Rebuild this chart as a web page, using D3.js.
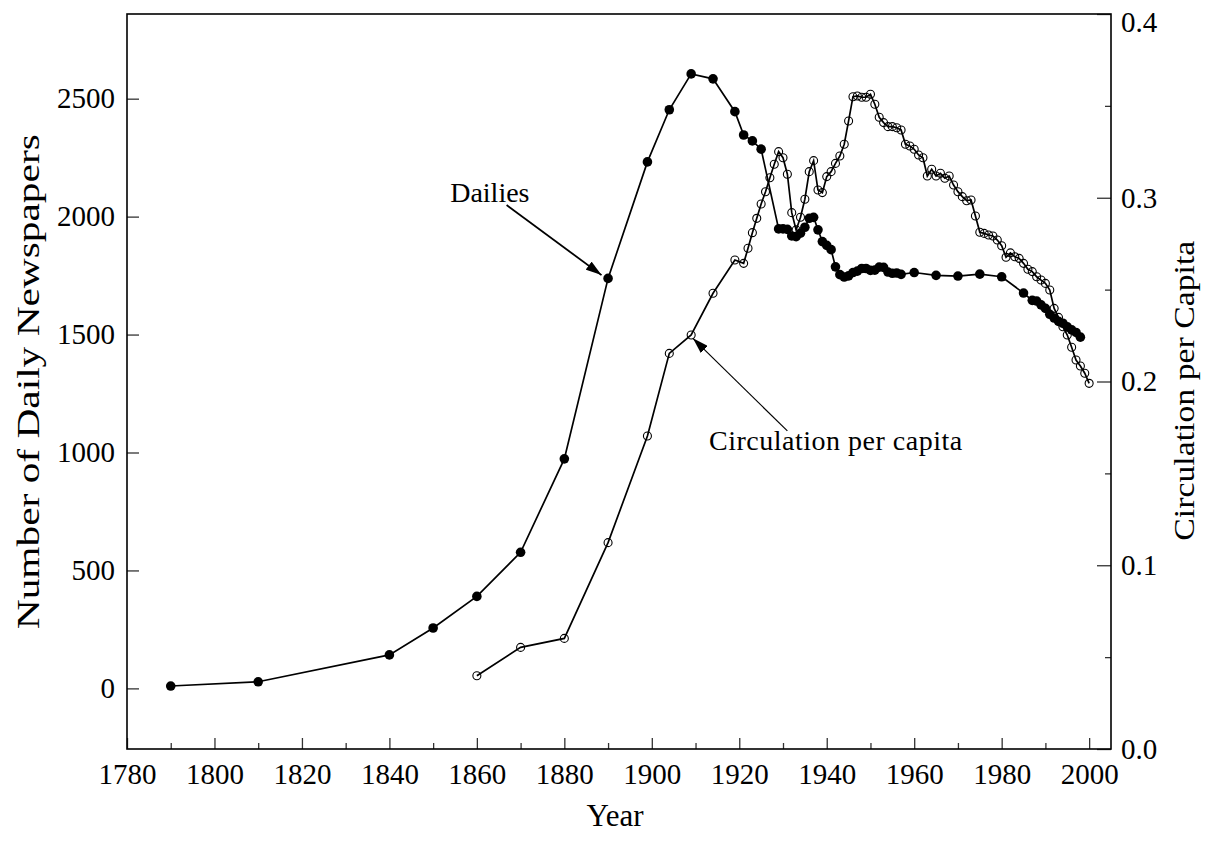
<!DOCTYPE html>
<html>
  <head>
    <meta charset="utf-8">
    <title>Daily Newspapers and Circulation per Capita</title>
    <script src="https://d3js.org/d3.v7.min.js"></script>
    <style>
      body { margin: 0; background: #fff; }
      svg { font-family: "Liberation Serif", "Times New Roman", serif; }
      .tick text { font-family: "Liberation Serif", "Times New Roman", serif; font-size: 29px; fill: #000; }
      .tick line { stroke: #333; stroke-width: 1.3; }
      .domain { display: none; }
    </style>
  </head>
  <body>

<svg id="chart" width="1205" height="841"></svg>

<script>

  // number of daily newspapers (left axis)
  let dailyYears = [1790, 1810, 1840, 1850, 1860, 1870, 1880, 1890, 1899, 1904, 1909, 1914, 1919, 1921, 1923, 1925,
    1929, 1930, 1931, 1932, 1933, 1934, 1935, 1936, 1937, 1938, 1939, 1940, 1941,
    1942, 1943, 1944, 1945, 1946, 1947, 1948, 1949, 1950, 1951, 1952, 1953, 1954, 1955, 1956, 1957,
    1960, 1965, 1970, 1975, 1980, 1985,
    1987, 1988, 1989, 1990, 1991, 1992, 1993, 1994, 1995, 1996, 1997, 1998];
  let dailyCounts = [10, 28, 142, 256, 390, 577, 973, 1738, 2232, 2453, 2605, 2584, 2445, 2346, 2321, 2286,
    1948, 1948, 1946, 1918, 1915, 1930, 1955, 1993, 1997, 1944, 1894, 1878, 1860,
    1787, 1754, 1744, 1749, 1763, 1769, 1780, 1780, 1772, 1773, 1786, 1785, 1765, 1760, 1761, 1755,
    1763, 1751, 1748, 1756, 1745, 1676,
    1645, 1642, 1626, 1611, 1586, 1570, 1556, 1548, 1533, 1520, 1509, 1489];

  // circulation per capita (right axis)
  let circYears = [1860, 1870, 1880, 1890, 1899, 1904, 1909, 1914, 1919, 1921, 1922, 1923, 1924, 1925, 1926, 1927, 1928,
    1929, 1930, 1931, 1932, 1933, 1934, 1935, 1936, 1937, 1938, 1939, 1940, 1941, 1942, 1943, 1944,
    1945, 1946, 1947, 1948, 1949, 1950, 1951, 1952, 1953, 1954, 1955, 1956, 1957, 1958, 1959, 1960,
    1961, 1962, 1963, 1964, 1965, 1966, 1967, 1968, 1969, 1970, 1971, 1972, 1973, 1974, 1975, 1976,
    1977, 1978, 1979, 1980, 1981, 1982, 1983, 1984, 1985, 1986, 1987, 1988, 1989, 1990, 1991, 1992,
    1993, 1994, 1995, 1996, 1997, 1998, 1999, 2000];
  let circValues = [0.0399, 0.0553, 0.0602, 0.1123, 0.1703, 0.2153, 0.2253, 0.2480, 0.2661, 0.2643, 0.2725, 0.2810, 0.2888, 0.2966, 0.3033, 0.3109, 0.3182,
    0.3251, 0.3218, 0.3128, 0.2919, 0.2825, 0.2894, 0.2992, 0.3142, 0.3202, 0.3042, 0.3028, 0.3115, 0.3142, 0.3187, 0.3227, 0.3291,
    0.3418, 0.3550, 0.3554, 0.3547, 0.3547, 0.3563, 0.3509, 0.3438, 0.3409, 0.3387, 0.3387, 0.3381, 0.3369, 0.3291, 0.3282, 0.3264,
    0.3233, 0.3218, 0.3118, 0.3155, 0.3118, 0.3133, 0.3106, 0.3118, 0.3069, 0.3033, 0.3006, 0.2984, 0.2988, 0.2901, 0.2812, 0.2806,
    0.2797, 0.2792, 0.2770, 0.2739, 0.2676, 0.2700, 0.2679, 0.2670, 0.2643, 0.2611, 0.2598, 0.2570, 0.2552, 0.2534, 0.2498, 0.2398,
    0.2349, 0.2298, 0.2253, 0.2186, 0.2117, 0.2084, 0.2045, 0.1990];

  // tick labels
  let yearTicks = [1780, 1800, 1820, 1840, 1860, 1880, 1900, 1920, 1940, 1960, 1980, 2000];
  let yearMinorTicks = [1790, 1810, 1830, 1850, 1870, 1890, 1910, 1930, 1950, 1970, 1990];
  let countTicks = [0, 500, 1000, 1500, 2000, 2500];
  let circTicks = [0.0, 0.1, 0.2, 0.3, 0.4];
  let circMinorTicks = [0.05, 0.15, 0.25, 0.35];

  // annotations, in data units: [label, label year, label value, arrow start year, start value, arrow tip year, tip value]
  let dailiesNote = ["Dailies", 1853.9, 2063, 1866.8, 2049, 1888.5, 1752];
  let circNote = ["Circulation per capita", 1913.1, 0.1627, 1931.0, 0.1731, 1909.4, 0.2235];

  let svg = d3.select("#chart");

  let margin = { top: 14, right: 94, bottom: 92, left: 127 };
  let width = 1205, height = 841;
  let plotWidth = width - margin.left - margin.right;
  let plotHeight = height - margin.top - margin.bottom;

  let x = d3.scaleLinear().domain([1780, 2005]).range([0, plotWidth]);
  let yLeft = d3.scaleLinear().domain([-257, 2859]).range([plotHeight, 0]);
  let yRight = d3.scaleLinear().domain([0, 0.4]).range([plotHeight, 0]);

  let plot = svg.append("g").attr("transform", translate(margin.left, margin.top));

  // axes, ticks point inward
  plot.append("g").attr("transform", translate(0, plotHeight))
    .call(d3.axisBottom(x).tickValues(yearTicks).tickSize(-11).tickPadding(14).tickFormat(d3.format("d")));
  plot.append("g").attr("transform", translate(0, plotHeight))
    .call(d3.axisBottom(x).tickValues(yearMinorTicks).tickSize(-6).tickFormat(""));

  plot.append("g")
    .call(d3.axisLeft(yLeft).tickValues(countTicks).tickSize(-12).tickPadding(12).tickFormat(d3.format("d")));

  plot.append("g").attr("transform", translate(plotWidth, 0))
    .call(d3.axisRight(yRight).tickValues(circTicks).tickSize(-14).tickPadding(10).tickFormat(d3.format(".1f")));
  plot.append("g").attr("transform", translate(plotWidth, 0))
    .call(d3.axisRight(yRight).tickValues(circMinorTicks).tickSize(-6).tickFormat(""));

  // keep the 0.4 label inside the picture
  plot.selectAll(".tick text").filter(d => d === 0.4).attr("dy", "0.6em");

  // frame
  plot.append("rect")
    .attr("width", plotWidth).attr("height", plotHeight)
    .attr("fill", "none").attr("stroke", "#000").attr("stroke-width", 1.6);

  // axis titles
  svg.append("text")
    .attr("x", margin.left + plotWidth / 2 - 4).attr("y", 826)
    .attr("text-anchor", "middle").style("font-size", "31px")
    .text("Year");
  svg.append("text")
    .attr("transform", translate(39, margin.top + yLeft(1300)) + " rotate(-90)")
    .attr("text-anchor", "middle").style("font-size", "31px")
    .attr("textLength", 495).attr("lengthAdjust", "spacingAndGlyphs")
    .text("Number of Daily Newspapers");
  svg.append("text")
    .attr("transform", translate(1194, margin.top + yRight(0.195)) + " rotate(-90)")
    .attr("text-anchor", "middle").style("font-size", "30px")
    .attr("textLength", 300).attr("lengthAdjust", "spacingAndGlyphs")
    .text("Circulation per Capita");

  // circulation per capita series
  let circData = circYears.map((yr, i) => ({ year: yr, value: circValues[i] }));
  plot.append("path")
    .datum(circData)
    .attr("fill", "none").attr("stroke", "#000").attr("stroke-width", 1.7)
    .attr("d", d3.line().x(d => x(d.year)).y(d => yRight(d.value)));
  plot.selectAll(".circ-pt")
    .data(circData)
    .enter().append("circle")
    .attr("class", "circ-pt")
    .attr("cx", d => x(d.year)).attr("cy", d => yRight(d.value))
    .attr("r", 4)
    .attr("fill", "none").attr("stroke", "#000").attr("stroke-width", 1.1);

  // dailies series
  let dailyData = dailyYears.map((yr, i) => ({ year: yr, value: dailyCounts[i] }));
  plot.append("path")
    .datum(dailyData)
    .attr("fill", "none").attr("stroke", "#000").attr("stroke-width", 1.7)
    .attr("d", d3.line().x(d => x(d.year)).y(d => yLeft(d.value)));
  plot.selectAll(".daily-pt")
    .data(dailyData)
    .enter().append("circle")
    .attr("class", "daily-pt")
    .attr("cx", d => x(d.year)).attr("cy", d => yLeft(d.value))
    .attr("r", 4.8)
    .attr("fill", "#000");

  // arrowhead marker
  svg.append("defs").append("marker")
    .attr("id", "arrow")
    .attr("viewBox", "0 0 16 10")
    .attr("refX", 16).attr("refY", 5)
    .attr("markerWidth", 16).attr("markerHeight", 10)
    .attr("markerUnits", "userSpaceOnUse")
    .attr("orient", "auto")
    .append("path").attr("d", "M0,0 L16,5 L0,10 Z").attr("fill", "#000");

  // annotations
  function drawNote(note, yScale, lineWidth, spacing) {
    plot.append("text")
      .attr("x", x(note[1])).attr("y", yScale(note[2]))
      .style("font-size", "28px")
      .style("letter-spacing", spacing)
      .text(note[0]);
    plot.append("line")
      .attr("x1", x(note[3])).attr("y1", yScale(note[4]))
      .attr("x2", x(note[5])).attr("y2", yScale(note[6]))
      .attr("stroke", "#000").attr("stroke-width", lineWidth)
      .attr("marker-end", "url(#arrow)");
  }
  drawNote(dailiesNote, yLeft, 1.8, "0px");
  drawNote(circNote, yRight, 1.2, "0.5px");

  // helper method to make translating easier
  function translate(x, y) {
    return 'translate(' + x + ',' + y + ')';
  }

</script>
</body>
</html>
